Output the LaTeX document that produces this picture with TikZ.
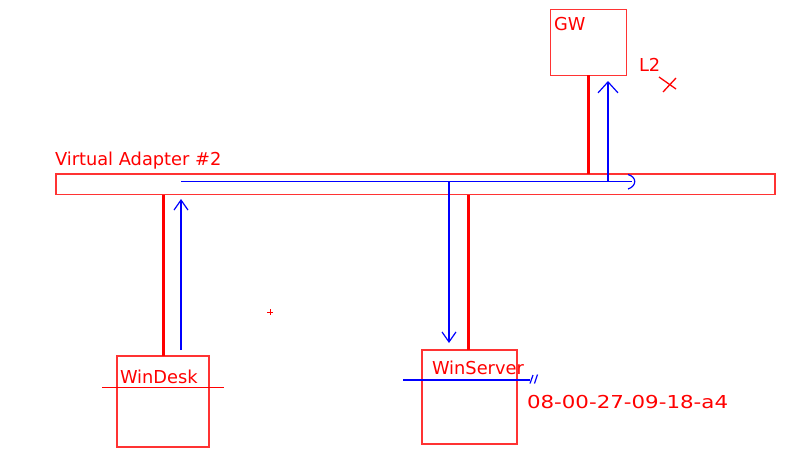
\documentclass[tikz,border=0pt]{standalone}
\usepackage{fontspec}
\setmainfont{DejaVu Sans}
\usetikzlibrary{arrows.meta}
\begin{document}
\begin{tikzpicture}[x=1pt,y=-1pt,
  box/.style={draw=red!80, line width=1.4pt, inner sep=0pt, outer sep=0pt},
  lbl/.style={text=red, font=\fontsize{17.8}{20}\selectfont, inner sep=0pt, outer sep=0pt, anchor=base west},
  link/.style={draw=red, line width=3pt},
  flow/.style={draw=blue, line width=1.2pt},
  thin/.style={draw=red, line width=1.3pt},
  headA/.style={-{Straight Barb[length=10pt,width=14pt,line width=1.2pt]}},
  headB/.style={-{Straight Barb[length=11pt,width=20pt,line width=1.2pt]}}]
\useasboundingbox (0,0) rectangle (794,466);

% boxes
\node[box, minimum width=76pt, minimum height=66pt] (gw) at (588.7,42.2) {};
\node[box, minimum width=719pt, minimum height=20.5pt] (bar) at (415.3,184.3) {};
\node[box, minimum width=92pt, minimum height=91pt] (desk) at (163,401.5) {};
\node[box, minimum width=95pt, minimum height=94pt] (server) at (469.5,397) {};

% labels
\node[lbl] (gwl) at (554,30) {GW};
\node[lbl] (l2) at (639,71) {L2};
\node[lbl] (barl) at (55,165) {Virtual Adapter \#2};
\node[lbl] (deskl) at (120,383) {WinDesk};
\node[lbl] (serverl) at (432,374) {WinServer};
\node[lbl] (mac) at (527,408) {\scalebox{1.2}[1]{08-00-27-09-18-a4}};

% red connectors
\draw[link] (gw.south) -- (gw.south |- bar.north);
\draw[link] (desk.north) -- (desk.north |- bar.south);
\coordinate (srvtop) at (468,350);
\draw[link] (srvtop) -- (srvtop |- bar.south);

% red marks
\coordinate (xa) at (659,77); \coordinate (xb) at (676,89);
\coordinate (xc) at (676,78); \coordinate (xd) at (663,92);
\draw[thin] (xa) -- (xb) (xc) -- (xd);
\coordinate (pa) at (267,312); \coordinate (pb) at (273,312);
\coordinate (pc) at (270,309); \coordinate (pd) at (270,315);
\draw[draw=red, line width=1pt] (pa) -- (pb) (pc) -- (pd);
\coordinate (dl1) at (102,387); \coordinate (dl2) at (224,387);
\draw[draw=red, line width=1pt] (dl1) -- (dl2);

% blue flow
\coordinate (h1) at (181,181.7); \coordinate (h2) at (632,181.7);
\draw[flow] (h1) -- (h2);
\coordinate (ca) at (628,174.5); \coordinate (cb) at (628,189);
\draw[flow] (ca) .. controls (637,177) and (637,186) .. (cb);
\coordinate (dstart) at (181,350); \coordinate (dend) at (181,199);
\draw[flow, headA] (dstart) -- (dend);
\coordinate (sstart) at (449,181.7); \coordinate (send) at (449,343);
\draw[flow, headA] (sstart) -- (send);
\coordinate (gstart) at (608,181.7); \coordinate (gend) at (608,81);
\draw[flow, headB] (gstart) -- (gend);
\coordinate (w1) at (403,380); \coordinate (w2) at (530,380);
\draw[flow] (w1) -- (w2);
\coordinate (m1) at (530,383.5); \coordinate (m2) at (533,375);
\coordinate (m3) at (534.5,383.5); \coordinate (m4) at (537.5,374.5);
\draw[flow] (m1) -- (m2) (m3) -- (m4);
\end{tikzpicture}
\end{document}
